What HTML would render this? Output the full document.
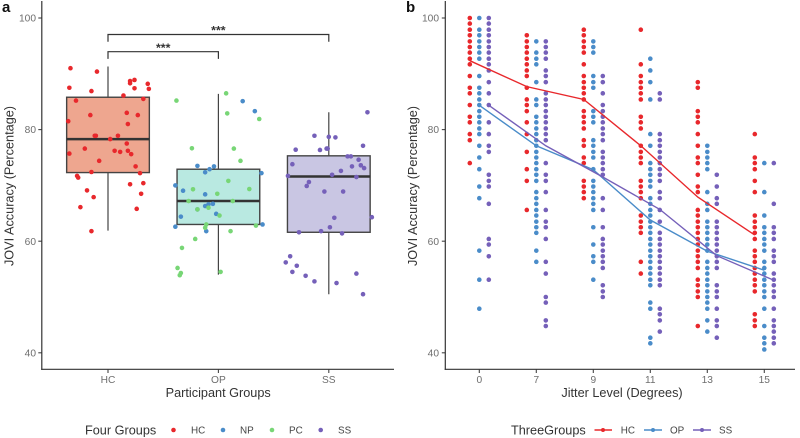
<!DOCTYPE html>
<html lang="en">
<head>
<meta charset="utf-8">
<title>JOVI accuracy charts</title>
<style>
html,body{margin:0;padding:0;background:#fff;width:800px;height:438px;overflow:hidden}
svg{display:block;font-family:"Liberation Sans",Arial,sans-serif;filter:blur(.3px)}
</style>
</head>
<body>
<svg id="figure" width="800" height="438" viewBox="0 0 800 438" xmlns="http://www.w3.org/2000/svg">
  <rect x="0" y="0" width="800" height="438" fill="#fff"/>
  <g id="panelA"></g>
  <g id="panelB"></g>

  <text x="2" y="12" font-size="15" font-weight="bold" fill="#111">a</text>
  <text x="406" y="12" font-size="15" font-weight="bold" fill="#111">b</text>

  <text transform="translate(13.6,186) rotate(-90)" text-anchor="middle" font-size="12.7" fill="#333">JOVI Accuracy (Percentage)</text>
  <text transform="translate(417,186) rotate(-90)" text-anchor="middle" font-size="12.7" fill="#333">JOVI Accuracy (Percentage)</text>
  <text x="218.2" y="397" text-anchor="middle" font-size="12.7" fill="#333">Participant Groups</text>
  <text x="622" y="397" text-anchor="middle" font-size="12.7" fill="#333">Jitter Level (Degrees)</text>

  <g>
    <text x="85" y="434.3" font-size="12.7" fill="#333">Four Groups</text>
    <circle cx="173.5" cy="430" r="2.3" fill="#e8282c"/>
    <text x="191" y="433.6" font-size="9.9" fill="#444">HC</text>
    <circle cx="223" cy="430" r="2.3" fill="#4a8cc9"/>
    <text x="240" y="433.6" font-size="9.9" fill="#444">NP</text>
    <circle cx="272" cy="430" r="2.3" fill="#78d676"/>
    <text x="289" y="433.6" font-size="9.9" fill="#444">PC</text>
    <circle cx="320.7" cy="430" r="2.3" fill="#7560b9"/>
    <text x="338" y="433.6" font-size="9.9" fill="#444">SS</text>
  </g>

  <g>
    <text x="511" y="434.3" font-size="12.7" fill="#333">ThreeGroups</text>
    <line x1="594.5" x2="612" y1="430" y2="430" stroke="#e8282c" stroke-width="1.4"/>
    <circle cx="603" cy="430" r="2" fill="#e8282c"/>
    <text x="620.7" y="433.6" font-size="9.9" fill="#444">HC</text>
    <line x1="644" x2="662" y1="430" y2="430" stroke="#4a8cc9" stroke-width="1.4"/>
    <circle cx="653" cy="430" r="2" fill="#4a8cc9"/>
    <text x="670" y="433.6" font-size="9.9" fill="#444">OP</text>
    <line x1="693" x2="711" y1="430" y2="430" stroke="#7560b9" stroke-width="1.4"/>
    <circle cx="702" cy="430" r="2" fill="#7560b9"/>
    <text x="719" y="433.6" font-size="9.9" fill="#444">SS</text>
  </g>
</svg>

<script>
// ---------- shared axis data ----------
const yTickValues = [40, 60, 80, 100];

// ---------- panel a data ----------
const groupLabels = ['HC', 'OP', 'SS'];
const boxQ1 = [72.3, 63.0, 61.6];
const boxMedian = [78.3, 67.2, 71.6];
const boxQ3 = [85.8, 72.9, 75.3];
const whiskerLow = [61.9, 54.0, 50.5];
const whiskerHigh = [91.3, 86.4, 83.1];
const boxFills = ['#eea68f', '#b9e9e1', '#c9c6e3'];

const hcJitter = [-.34,-.10,.20,.20,.24,.36,.37,.24,-.35,-.15,.14,-.29,.32,.17,.27,-.16,-.36,.18,-.12,-.11,.09,.02,.17,-.21,.06,.11,.18,.21,-.35,-.08,.25,.29,-.15,-.28,-.27,.20,.32,-.19,.30,-.13,-.25,.26,-.15];
const hcAccuracy = [91.0,90.4,88.7,88.3,88.9,88.2,87.3,87.4,87.5,86.9,86.1,85.2,85.5,83.0,82.6,82.6,81.5,81.0,78.9,78.9,78.9,78.3,77.5,76.6,76.2,76.0,76.2,75.6,75.7,74.4,73.4,72.2,72.4,71.7,71.4,70.2,70.4,69.1,68.5,67.9,66.1,65.8,61.8];

const npJitter = [.22,.33,-.19,-.04,-.08,-.12,.39,-.39,-.32,-.12,-.09,-.05,-.12,-.19,-.02,-.34,-.39,-.11,.40];
const npAccuracy = [85.1,83.3,73.5,73.4,72.9,72.35,72.2,70.0,69.05,68.4,66.6,66.7,66.3,65.7,64.9,64.4,62.6,61.8,63.0];

const pcJitter = [.07,-.38,.08,.37,-.24,.14,.20,.09,-.23,.28,-.01,-.27,.13,-.09,-.19,.01,-.11,-.12,.11,.34,-.21,-.33,-.37,-.34,-.35,.02];
const pcAccuracy = [86.5,85.2,82.9,81.9,76.65,76.6,74.4,70.8,69.3,69.35,68.5,67.2,67.2,66.0,65.7,64.6,63.0,62.4,61.8,62.8,60.4,58.8,55.2,54.3,53.9,54.5];

const ssJitter = [.35,-.13,0,.06,-.30,-.08,-.02,-.01,.31,.17,.20,.27,-.33,.21,.29,.32,.11,.03,-.37,.25,-.18,-.20,-.04,.13,.05,.39,.01,-.27,-.07,.12,-.35,-.39,-.29,-.33,-.21,-.13,.07,.25,.31];
const ssAccuracy = [83.1,78.9,78.7,78.6,76.4,76.35,76.6,76.6,77.1,75.2,75.2,74.6,73.8,73.4,73.6,73.1,72.6,71.9,71.7,71.5,70.6,69.9,68.9,68.9,64.2,64.3,62.5,61.6,61.8,61.4,57.3,56.2,55.6,54.5,53.8,52.8,52.5,54.2,50.5];

// bracket comparisons: start group, end group, label
const bracketFrom = [0, 0];
const bracketTo = [1, 2];
const bracketLevel = [93.96, 97.04];
const bracketLabels = ['***', '***'];

// ---------- panel b data ----------
const jitterLevels = ['0', '7', '9', '11', '13', '15'];

const hcDots = [
 [100,99,97.9,96.9,95.8,94.8,93.8,92.7,91.7,89.6,87.5,86.5,84.4,82.3,81.3,79.2,78.1,74],
 [96.9,95.8,94.8,93.8,92.7,91.7,90.6,89.6,87.5,85.4,84.4,83.3,81.3,79.2,76,72.9,70.8,65.6],
 [97.9,96.9,95.8,94.8,93.8,91.7,89.6,88.5,87.5,86.5,85.4,83.3,82.3,81.3,80.2,78.1,77.1,75,74,70.8,69.8,68.8,67.7],
 [97.9,91.7,89.6,88.5,87.5,86.5,85.4,82.3,81.3,80.2,77.1,76,75,74,70.8,69.8,68.8,67.7,64.6,63.5,62.5,61.5,56.3,54.2],
 [88.5,87.5,83.3,82.3,81.3,79.2,77.1,75,74,71.9,69.8,68.8,65.6,64.6,63.5,62.5,61.5,60.4,59.4,58.3,57.3,56.3,55.2,53.1,52.1,51,50,44.8],
 [79.2,75,74,72.9,70.8,68.8,64.6,63.5,62.5,61.5,60.4,58.3,57.3,56.3,55.2,54.2,53.1,52.1,51,46.9,45.8,44.8]
];
const opDots = [
 [100,97.9,96.9,95.8,94.8,93.8,92.7,89.6,87.5,86.5,85.4,84.4,83.3,82.3,81.3,80.2,79.2,77.1,75,72.9,69.8,67.7,58.3,53.1,47.9],
 [95.8,93.8,92.7,91.7,88.5,85.4,84.4,82.3,81.3,80.2,79.2,78.1,77.1,76,75,74,72.9,71.9,70.8,68.8,67.7,66.7,65.6,64.6,63.5,62.5,61.5,58.3,56.3],
 [95.8,94.8,93.8,89.6,88.5,87.5,83.3,82.3,81.3,78.1,77.1,76,75,72.9,70.8,69.8,68.8,67.7,66.7,65.6,62.5,59.4,57.3,56.3,53.1],
 [92.7,90.6,88.5,85.4,79.2,77.1,74,72.9,71.9,70.8,69.8,67.7,66.7,65.6,64.6,63.5,62.5,61.5,60.4,59.4,58.3,57.3,56.3,55.2,54.2,53.1,52.1,49,47.9,42.7,41.7],
 [77.1,76,75,74,72.9,68.8,66.7,65.6,63.5,62.5,61.5,60.4,59.4,58.3,56.3,55.2,54.2,53.1,52.1,51,50,49,47.9,45.8,43.8],
 [74,68.8,64.6,62.5,61.5,60.4,59.4,58.3,56.3,55.2,54.2,53.1,52.1,51,50,47.9,44.8,42.7,41.7,40.6]
];
const ssDots = [
 [100,99,97.9,96.9,95.8,94.8,93.8,92.7,91.7,90.6,88.5,86.5,84.4,81.3,79.2,77.1,76,71.9,70.8,69.8,66.7,60.4,59.4,57.3,53.1],
 [95.8,94.8,93.8,92.7,90.6,89.6,88.5,86.5,85.4,84.4,83.3,82.3,81.3,80.2,79.2,78.1,74,71.9,70.8,68.8,65.6,63.5,62.5,60.4,56.3,54.2,50,49,45.8,44.8],
 [89.6,88.5,86.5,84.4,83.3,82.3,81.3,80.2,79.2,78.1,76,75,74,72.9,71.9,67.7,65.6,62.5,60.4,59.4,58.3,57.3,56.3,55.2,52.1,51,50],
 [86.5,85.4,79.2,78.1,77.1,76,75,74,72.9,71.9,70.8,68.8,67.7,65.6,63.5,61.5,60.4,59.4,58.3,57.3,56.3,55.2,54.2,53.1,52.1,47.9,46.9,45.8,43.8],
 [71.9,69.8,67.7,66.7,63.5,62.5,61.5,60.4,59.4,58.3,57.3,56.3,55.2,52.1,51,50,47.9,45.8,44.8,42.7],
 [74,66.7,62.5,61.5,60.4,58.3,57.3,56.3,54.2,53.1,52.1,51,50,47.9,45.8,44.8,43.8,42.7,41.7]
];

const hcMeans = [92.35, 87.7, 85.4, 77.1, 67.9, 61.1];
const opMeans = [84.35, 77.1, 72.8, 63.8, 58.2, 54.8];
const ssMeans = [84.35, 77.1, 71.5, 65.7, 57.4, 53.0];

// ---------- styling ----------
const RED = '#e8282c', BLUE = '#4a8cc9', GREEN = '#78d676', PURPLE = '#7560b9';

// ---------- axis functions ----------
const yScale = v => 18 + (100 - v) * 5.58;
const xScaleA = (g, j) => 108 + (g + j) * 110.4;
const xScaleB = (i, dodge) => 479.3 + i * 57 + dodge * 9.5;

const SVGNS = 'http://www.w3.org/2000/svg';
const panelA = document.getElementById('panelA');
const panelB = document.getElementById('panelB');

function make(parent, tag, attrs, text) {
  const el = document.createElementNS(SVGNS, tag);
  for (const k in attrs) el.setAttribute(k, attrs[k]);
  if (text !== undefined) el.textContent = text;
  parent.appendChild(el);
  return el;
}

function drawAxes(parent, left, right, tickLabelX, axisId) {
  yTickValues.forEach(v => {
    const tick = make(parent, 'line', {x1: left - 3.5, x2: left, y1: yScale(v), y2: yScale(v), stroke: '#444', 'stroke-width': 1.1});
    
    
    const label = make(parent, 'text', {x: tickLabelX, y: yScale(v) + 3.6, 'text-anchor': 'end', 'font-size': 10.2, fill: '#6e6e6e'}, String(v));
    
    
  });
  const yAxis = make(parent, 'line', {x1: left, x2: left, y1: 1, y2: 369.9, stroke: '#333', 'stroke-width': 1.2});
  
  
  const xAxis = make(parent, 'line', {x1: left - 0.6, x2: right, y1: 369.3, y2: 369.3, stroke: '#333', 'stroke-width': 1.2});
  
  
}

function drawXTick(parent, x, text, axisId) {
  const tick = make(parent, 'line', {x1: x, x2: x, y1: 369.5, y2: 373, stroke: '#444', 'stroke-width': 1.1});
  
  
  const label = make(parent, 'text', {x: x, y: 382.8, 'text-anchor': 'middle', 'font-size': 10.2, fill: '#6e6e6e'}, text);
  
  
}

// ---------- panel a ----------
drawAxes(panelA, 41.8, 394, 36, 'panel-a');
groupLabels.forEach((name, g) => {
  const x = xScaleA(g, 0);
  const half = 41.35;
  const whisker = make(panelA, 'line', {x1: x, x2: x, y1: yScale(whiskerHigh[g]), y2: yScale(whiskerLow[g]), stroke: '#444', 'stroke-width': 1.2});
  
  
  const box = make(panelA, 'rect', {x: x - half, y: yScale(boxQ3[g]), width: half * 2, height: yScale(boxQ1[g]) - yScale(boxQ3[g]), fill: boxFills[g], stroke: '#444', 'stroke-width': 1.4});
  
  
  const median = make(panelA, 'line', {x1: x - half, x2: x + half, y1: yScale(boxMedian[g]), y2: yScale(boxMedian[g]), stroke: '#333', 'stroke-width': 2.5});
  
  
  drawXTick(panelA, x, name, 'panel-a');
});

function drawJitter(groupIndex, jitter, values, color, name) {
  values.forEach((v, i) => {
    const dot = make(panelA, 'circle', {cx: xScaleA(groupIndex, jitter[i]), cy: yScale(v), r: 2.3, fill: color});
    
    
  });
}
drawJitter(0, hcJitter, hcAccuracy, RED, 'hc');
drawJitter(1, npJitter, npAccuracy, BLUE, 'np');
drawJitter(1, pcJitter, pcAccuracy, GREEN, 'pc');
drawJitter(2, ssJitter, ssAccuracy, PURPLE, 'ss');

bracketFrom.forEach((from, i) => {
  const x1 = xScaleA(from, 0);
  const x2 = xScaleA(bracketTo[i], 0);
  const y = yScale(bracketLevel[i]);
  const bracket = make(panelA, 'path', {d: 'M' + x1 + ' ' + (y + 7.2) + 'V' + y + 'H' + x2 + 'V' + (y + 7.2), fill: 'none', stroke: '#333', 'stroke-width': 1.2});
  
  
  const stars = make(panelA, 'text', {x: (x1 + x2) / 2, y: y + 0.2, 'text-anchor': 'middle', 'font-size': 12.4, 'font-weight': 'bold', fill: '#333'}, bracketLabels[i]);
  
  
});

// ---------- panel b ----------
drawAxes(panelB, 445.3, 795, 439, 'panel-b');
jitterLevels.forEach((level, i) => {
  drawXTick(panelB, xScaleB(i, 0), level, 'panel-b');
});

function drawDots(series, dodge, color, name) {
  series.forEach((column, i) => {
    column.forEach(v => {
      const dot = make(panelB, 'circle', {cx: xScaleB(i, dodge), cy: yScale(v), r: 2.3, fill: color});
      
      
    });
  });
}
drawDots(hcDots, -1, RED, 'hc');
drawDots(opDots, 0, BLUE, 'op');
drawDots(ssDots, 1, PURPLE, 'ss');

function drawMeanLine(means, dodge, color, name) {
  const pts = means.map((v, i) => xScaleB(i, dodge) + ',' + yScale(v)).join(' ');
  const line = make(panelB, 'polyline', {points: pts, fill: 'none', stroke: color, 'stroke-width': 1.4});
  
  
}
drawMeanLine(hcMeans, -1, RED, 'hc');
drawMeanLine(opMeans, 0, BLUE, 'op');
drawMeanLine(ssMeans, 1, PURPLE, 'ss');
</script>
</body>
</html>
